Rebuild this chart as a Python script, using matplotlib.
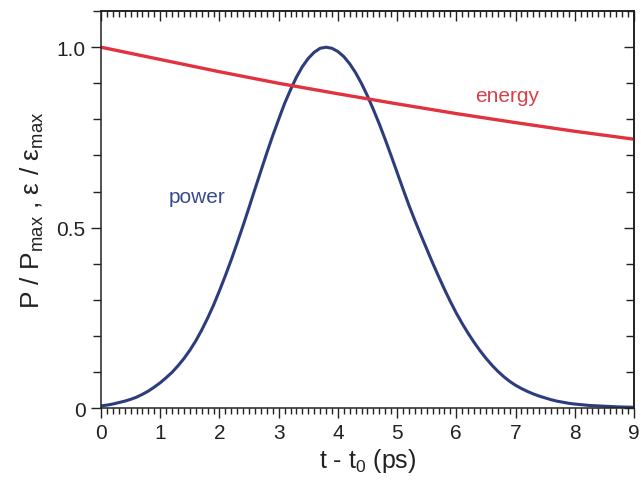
import matplotlib
matplotlib.use("Agg")
import matplotlib.pyplot as plt
from matplotlib.ticker import MultipleLocator

plt.rcParams['font.family'] = ['Liberation Sans', 'DejaVu Sans']
plt.rcParams['mathtext.fontset'] = 'custom'
plt.rcParams['mathtext.rm'] = 'Liberation Sans'
plt.rcParams['mathtext.it'] = 'Liberation Sans:italic'

# ---- data ----
t_power = [0.0, 0.1, 0.2, 0.3, 0.4, 0.5, 0.6, 0.7, 0.8, 0.9,
           1.0, 1.1, 1.2, 1.3, 1.4, 1.5, 1.6, 1.7, 1.8, 1.9,
           2.0, 2.1, 2.2, 2.3, 2.4, 2.5, 2.6, 2.7, 2.8, 2.9,
           3.0, 3.1, 3.2, 3.3, 3.4, 3.5, 3.6, 3.7, 3.8, 3.9,
           4.0, 4.1, 4.2, 4.3, 4.4, 4.5, 4.6, 4.7, 4.8, 4.9,
           5.0, 5.1, 5.2, 5.3, 5.4, 5.5, 5.6, 5.7, 5.8, 5.9,
           6.0, 6.1, 6.2, 6.3, 6.4, 6.5, 6.6, 6.7, 6.8, 6.9,
           7.0, 7.1, 7.2, 7.3, 7.4, 7.5, 7.6, 7.7, 7.8, 7.9,
           8.0, 8.25, 8.5, 8.75, 9.0]
power = [0.006, 0.008, 0.011, 0.015, 0.019, 0.024, 0.030, 0.038, 0.047, 0.058,
         0.070, 0.084, 0.099, 0.117, 0.137, 0.160, 0.186, 0.216, 0.249, 0.285,
         0.325, 0.367, 0.411, 0.458, 0.506, 0.556, 0.607, 0.657, 0.707, 0.755,
         0.800, 0.844, 0.882, 0.917, 0.946, 0.969, 0.986, 0.997, 1.000, 0.997,
         0.988, 0.974, 0.954, 0.929, 0.899, 0.865, 0.827, 0.787, 0.744, 0.699,
         0.653, 0.607, 0.562, 0.520, 0.480, 0.441, 0.402, 0.365, 0.329, 0.295,
         0.263, 0.234, 0.207, 0.182, 0.159, 0.138, 0.119, 0.102, 0.087, 0.074,
         0.063, 0.054, 0.046, 0.039, 0.033, 0.028, 0.023, 0.019, 0.016, 0.013,
         0.011, 0.007, 0.005, 0.003, 0.002]

t_energy = [0, 1, 2, 3, 4, 5, 6, 7, 8, 9]
energy = [1.000, 0.966, 0.932, 0.900, 0.871, 0.843, 0.816, 0.791, 0.767, 0.745]

x_ticks = [0, 1, 2, 3, 4, 5, 6, 7, 8, 9]
y_ticks = [0, 0.5, 1.0]
y_ticklabels = ['0', '0.5', '1.0']

power_color = '#2d3c7c'
energy_color = '#e2323f'
ink = '#222222'

fig = plt.figure(figsize=(6.41, 4.85), dpi=100)
ax = fig.add_axes([0.1576, 0.1567, 0.989 - 0.1576, 0.975 - 0.1567])

ax.plot(t_power, power, color=power_color, lw=2.2, solid_joinstyle='round')
ax.plot(t_energy, energy, color=energy_color, lw=2.4)

ax.set_xlim(0, 9)
ax.set_ylim(0, 1.1)

for s in ax.spines.values():
    s.set_linewidth(1.1)
    s.set_color(ink)

ax.set_xticks(x_ticks)
ax.xaxis.set_minor_locator(MultipleLocator(0.1))
ax.set_yticks(y_ticks)
ax.set_yticklabels(y_ticklabels)
ax.yaxis.set_minor_locator(MultipleLocator(0.1))

ax.tick_params(axis='both', which='both', direction='out', top=False, right=False,
               labelsize=15, colors=ink, width=1.0)
ax.tick_params(axis='both', which='major', length=7, pad=4)
ax.tick_params(axis='x', which='minor', length=4)
ax.tick_params(axis='y', which='minor', length=6)

secx = ax.secondary_xaxis('top')
secx.set_xticks(x_ticks)
secx.xaxis.set_minor_locator(MultipleLocator(0.1))
secx.tick_params(axis='x', which='both', direction='in', labeltop=False, width=1.0, colors=ink)
secx.tick_params(axis='x', which='major', length=7)
secx.tick_params(axis='x', which='minor', length=4)
secx.spines['top'].set_linewidth(1.1)

secy = ax.secondary_yaxis('right')
secy.set_yticks(y_ticks)
secy.yaxis.set_minor_locator(MultipleLocator(0.1))
secy.tick_params(axis='y', which='both', direction='in', labelright=False, width=1.0, colors=ink)
secy.tick_params(axis='y', which='major', length=7)
secy.tick_params(axis='y', which='minor', length=6)
secy.spines['right'].set_linewidth(1.1)

ax.set_xlabel(r't - t$_{\mathrm{0}}$ (ps)', fontsize=18, color=ink, labelpad=3)
ax.set_ylabel(r'P / P$_{\mathrm{max}}$ , ε / ε$_{\mathrm{max}}$', fontsize=19, color=ink, labelpad=8)

ax.text(1.62, 0.586, 'power', color='#3b4a8c', fontsize=15, ha='center', va='center')
ax.text(6.86, 0.865, 'energy', color='#d9414a', fontsize=15, ha='center', va='center')

fig.savefig('out.png', dpi=100)
